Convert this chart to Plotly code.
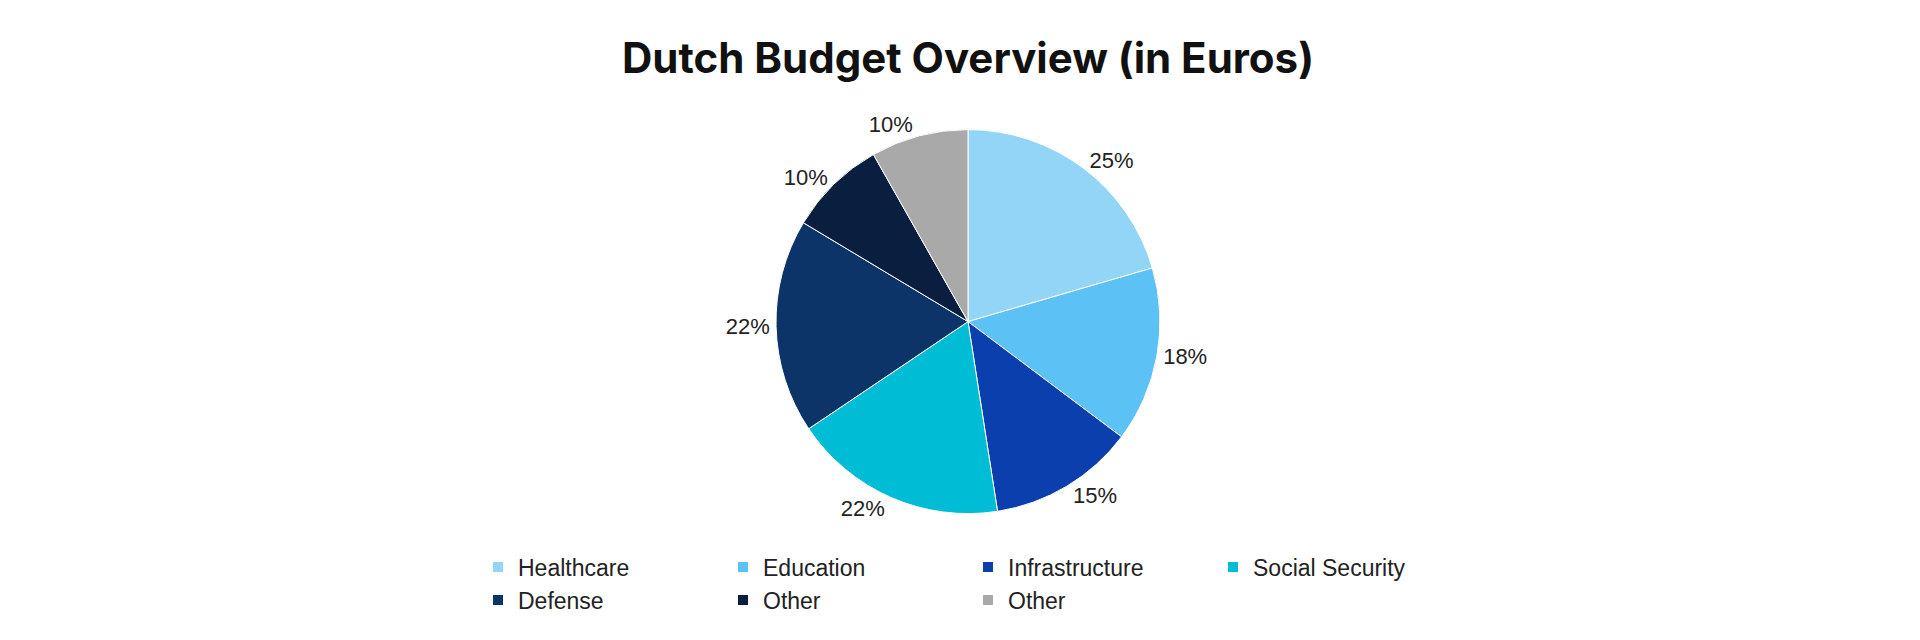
import plotly.graph_objects as go

categories = ["Healthcare", "Education", "Infrastructure", "Social Security", "Defense", "Other", "Other "]
values = [25, 18, 15, 22, 22, 10, 10]
label_text = ["25%", "18%", "15%", "22%", "22%", "10%", "10%"]
colors = ["#93d5f7", "#5cc2f6", "#0b3fae", "#00bcd4", "#0c3468", "#0a1f40", "#a9a9a9"]

fig = go.Figure(go.Pie(
    labels=categories, values=values, text=label_text,
    textinfo="text", textposition="outside", sort=False, direction="clockwise",
    marker=dict(colors=colors, line=dict(color="white", width=1)),
    textfont=dict(size=22, color="#222", family="Liberation Sans"),
    domain=dict(x=[0, 1], y=[0.21, 0.81]),
))
fig.update_layout(
    width=1920, height=640, paper_bgcolor="white", plot_bgcolor="white",
    title=dict(text="<b>Dutch Budget Overview (in Euros)</b>", x=0.5, y=0.945, xanchor="center",
               font=dict(size=42, color="#111", family="Inter")),
    legend=dict(orientation="h", x=0.5, xanchor="center", y=0.16, yanchor="top",
                font=dict(size=23, color="#222", family="Liberation Sans"),
                entrywidth=200, itemsizing="constant"),
    margin=dict(l=440, r=440, t=0, b=0),
)
fig.write_html("out.html")
